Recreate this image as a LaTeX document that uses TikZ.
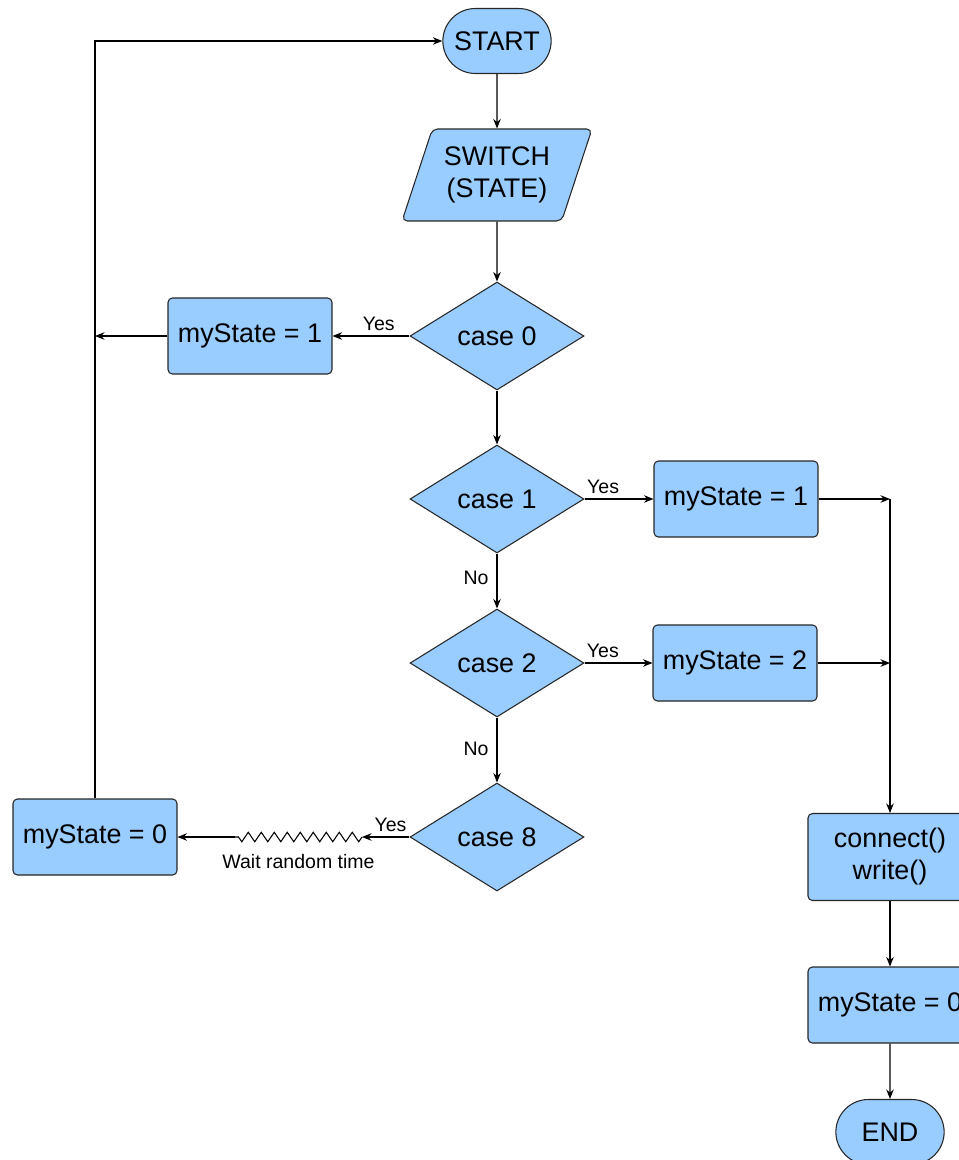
\documentclass[tikz,border=0pt]{standalone}
\usepackage{fontspec}
\setmainfont{Liberation Sans}
\usetikzlibrary{arrows.meta,positioning,shapes.geometric,shapes.misc,decorations.pathmorphing}
\definecolor{boxblue}{HTML}{99CCFF}

\begin{document}
\begin{tikzpicture}[x=0.02cm, y=-0.02cm, line width=0.6pt,
  >={Stealth[length=1.9mm,width=1.5mm]},
  txt/.style={font=\fontsize{15.3}{18.2}\selectfont, align=center},
  lbl/.style={font=\fontsize{11.1}{13}\selectfont, inner sep=1pt},
  box/.style={txt, draw=black!85, fill=boxblue, rounded corners=2.5pt,
    minimum width=3.28cm, minimum height=1.52cm},
  term/.style={txt, rounded rectangle, draw=black!85, fill=boxblue,
    minimum width=2.4cm, minimum height=1.3cm},
  io/.style={txt, trapezium, trapezium left angle=66, trapezium right angle=114,
    trapezium stretches body=true, draw=black!85, fill=boxblue, rounded corners=3pt,
    minimum width=3.8cm, minimum height=1.84cm},
  dec/.style={txt, diamond, draw=black!85, fill=boxblue, inner sep=0pt,
    shape aspect=1.6, minimum width=3.48cm, minimum height=2.16cm}]
\useasboundingbox (0,0) rectangle (959,1160);
% main column
\node[term] (start) at (497,41) {START};
\node[io] (sw) at (497,175) {SWITCH\\(STATE)};
\node[dec] (c0) at (497,336) {case 0};
\node[dec] (c1) at (497,499) {case 1};
\node[dec] (c2) at (497,663) {case 2};
\node[dec] (c8) at (497,837) {case 8};
% side boxes
\node[box] (s1l) at (250,336) {myState = 1};
\node[box] (s1r) at (736,499) {myState = 1};
\node[box] (s2r) at (735,663) {myState = 2};
\node[box] (s0l) at (95,837) {myState = 0};
% right column
\node[box, minimum height=1.74cm] (cw) at (890,857) {connect()\\write()};
\node[box] (s0r) at (890,1005) {myState = 0};
\node[term] (stop) at (890,1132) {END};
% down the cases
\draw[->] (start) -- (sw);
\draw[->] (sw) -- (c0);
\draw[->] (c0) -- (c1);
\draw[->] (c1) -- node[lbl, left=3.5pt, pos=0.45] {No} (c2);
\draw[->] (c2) -- node[lbl, left=3.5pt, pos=0.48] {No} (c8);
% yes branches
\draw[->] (c0) -- node[lbl, above=2pt, pos=0.4] {Yes} (s1l);
\draw[->] (c1) -- node[lbl, above=2pt, pos=0.27] {Yes} (s1r);
\draw[->] (c2) -- node[lbl, above=2pt, pos=0.27] {Yes} (s2r);
% loop back on the left
\coordinate (lft) at (s0l.north |- start.west);
\coordinate (lmid) at (s0l.north |- s1l.west);
\draw[->] (s1l) -- (lmid);
\draw[->] (s0l.north) -- (lft) -- (start.west);
% wait random time
\coordinate (w1) at (362,837);
\coordinate (w2) at (235,837);
\draw[->] (c8) -- node[lbl, above=2pt, pos=0.4] {Yes} (w1);
\draw[decorate, decoration={zigzag, segment length=2.6mm, amplitude=0.95mm}]
  (w1) -- node[lbl, below=8.5pt] {Wait random time} (w2);
\draw[->] (w2) -- (s0l);
% merge on the right
\coordinate (m1) at (cw.north |- s1r.east);
\coordinate (m2) at (cw.north |- s2r.east);
\draw[->] (s1r) -- (m1);
\draw[->] (s2r) -- (m2);
\draw[->] (m1) -- (cw);
\draw[->] (cw) -- (s0r);
\draw[->] (s0r) -- (stop);
\end{tikzpicture}
\end{document}
